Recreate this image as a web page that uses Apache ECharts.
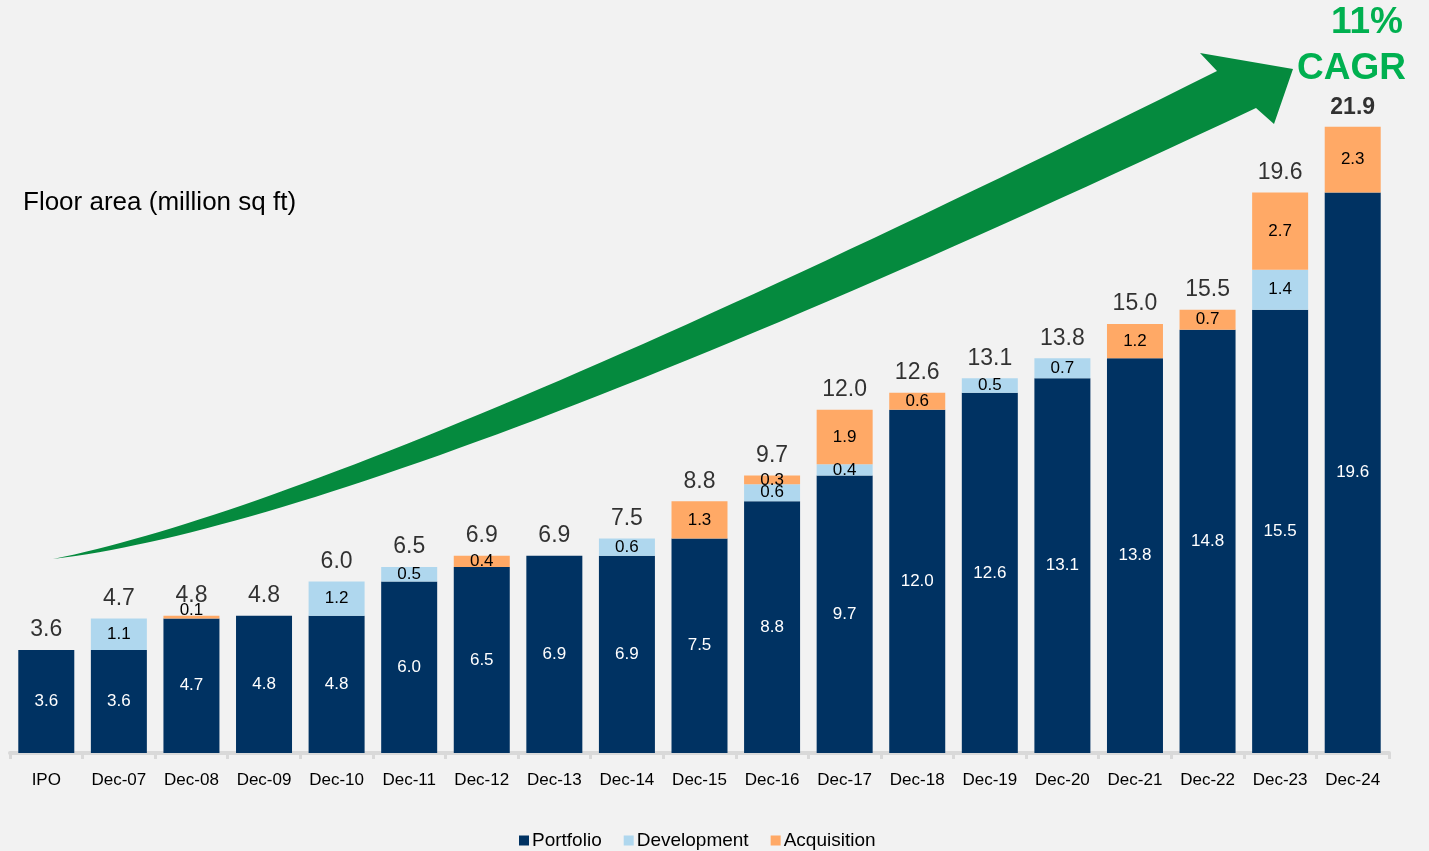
<!DOCTYPE html>
<html>
<head>
<meta charset="utf-8">
<script src="https://cdn.jsdelivr.net/npm/echarts@6/dist/echarts.min.js"></script>
<style>
html,body{margin:0;padding:0;background:#f2f2f2;}
#c{width:1429px;height:851px;}
</style>
</head>
<body>
<div id="c"></div>
<script>
const categories = ['IPO','Dec-07','Dec-08','Dec-09','Dec-10','Dec-11','Dec-12','Dec-13','Dec-14','Dec-15','Dec-16','Dec-17','Dec-18','Dec-19','Dec-20','Dec-21','Dec-22','Dec-23','Dec-24'];
const portfolio   = [3.6, 3.6, 4.7, 4.8, 4.8, 6.0, 6.5, 6.9, 6.9, 7.5, 8.8, 9.7, 12.0, 12.6, 13.1, 13.8, 14.8, 15.5, 19.6];
const development = [0, 1.1, 0, 0, 1.2, 0.5, 0, 0, 0.6, 0, 0.6, 0.4, 0, 0.5, 0.7, 0, 0, 1.4, 0];
const acquisition = [0, 0, 0.1, 0, 0, 0, 0.4, 0, 0, 1.3, 0.3, 1.9, 0.6, 0, 0, 1.2, 0.7, 2.7, 2.3];
const totals      = [3.6, 4.7, 4.8, 4.8, 6.0, 6.5, 6.9, 6.9, 7.5, 8.8, 9.7, 12.0, 12.6, 13.1, 13.8, 15.0, 15.5, 19.6, 21.9];
const cagrText = ['11%', 'CAGR'];
const titleText = 'Floor area (million sq ft)';

const FONT = '"Liberation Sans", Arial, sans-serif';
const fmt = v => v.toFixed(1);

function segData(arr) {
  return arr.map(v => {
    if (v === 0) return { value: 0, label: { show: false } };
    if (v < 0.2) return { value: v, label: { position: 'top', distance: -3 } };
    return v;
  });
}

// decorative arrow outline (quadratic bezier edges sampled)
function quad(p0, c, p1, n) {
  const pts = [];
  for (let i = 0; i <= n; i++) {
    const t = i / n, u = 1 - t;
    pts.push([u*u*p0[0] + 2*u*t*c[0] + t*t*p1[0], u*u*p0[1] + 2*u*t*c[1] + t*t*p1[1]]);
  }
  return pts;
}
const upper = quad([53,559], [366,496], [1217,71], 60);
const lower = quad([1256,108], [380,520], [53,559], 60);
const arrowPts = upper.concat([[1200,53],[1293,69],[1274,124]], lower);

const chart = echarts.init(document.getElementById('c'), null, { renderer: 'canvas' });
const option = {
  backgroundColor: '#f2f2f2',
  animation: false,
  textStyle: { fontFamily: FONT },
  grid: { left: 10, right: 40, top: 38, bottom: 98 },
  legend: {
    top: 826,
    left: 514,
    icon: 'rect',
    itemWidth: 10,
    itemHeight: 10,
    itemGap: 22,
    textStyle: { fontSize: 19, color: '#000', fontFamily: FONT, padding: [0, 0, 0, -2] },
    data: ['Portfolio', 'Development', 'Acquisition']
  },
  xAxis: {
    type: 'category',
    data: categories,
    axisLine: { show: true, lineStyle: { color: '#d9d9d9', width: 4 } },
    axisTick: { show: true, length: 6, lineStyle: { color: '#d9d9d9', width: 3 } },
    axisLabel: { interval: 0, fontSize: 17, color: '#000', margin: 19, fontFamily: FONT }
  },
  yAxis: {
    type: 'value', min: 0, max: 25, show: false,
    splitLine: { show: false }
  },
  series: [
    {
      name: 'Portfolio', type: 'bar', stack: 'a', barWidth: 56,
      itemStyle: { color: '#003262' },
      label: { show: true, position: 'inside', color: '#fff', fontSize: 17, formatter: p => fmt(p.value), fontFamily: FONT },
      data: segData(portfolio)
    },
    {
      name: 'Development', type: 'bar', stack: 'a', barWidth: 56,
      itemStyle: { color: '#afd7ee' },
      label: { show: true, position: 'inside', color: '#000', fontSize: 17, formatter: p => fmt(p.value), fontFamily: FONT },
      data: segData(development)
    },
    {
      name: 'Acquisition', type: 'bar', stack: 'a', barWidth: 56,
      itemStyle: { color: '#ffa966' },
      label: { show: true, position: 'inside', color: '#000', fontSize: 17, formatter: p => fmt(p.value), fontFamily: FONT },
      data: segData(acquisition)
    },
    {
      name: 'Total', type: 'scatter', symbolSize: 1,
      itemStyle: { color: 'rgba(0,0,0,0)' },
      label: {
        show: true, position: 'top', distance: 8, color: '#000', fontSize: 23, fontFamily: FONT,
        formatter: p => fmt(p.value)
      },
      data: totals.map((v, i) => i === totals.length - 1
        ? { value: v, label: { fontWeight: 'bold', color: '#000', distance: 7 } }
        : v)
    }
  ],
  graphic: [
    {
      type: 'text', left: 23, top: 190,
      style: { text: titleText, fontSize: 26, fill: '#000', fontFamily: FONT }
    },
    {
      type: 'polygon',
      shape: { points: arrowPts },
      style: { fill: '#058a3e' },
      z: 1
    },
    {
      type: 'text', right: 26, top: 4,
      style: { text: cagrText[0], fontSize: 37, fontWeight: 'bold', fill: '#00b050', fontFamily: FONT }
    },
    {
      type: 'text', right: 23, top: 50,
      style: { text: cagrText[1], fontSize: 37, fontWeight: 'bold', fill: '#00b050', fontFamily: FONT }
    }
  ]
};
chart.setOption(option);
</script>
</body>
</html>
